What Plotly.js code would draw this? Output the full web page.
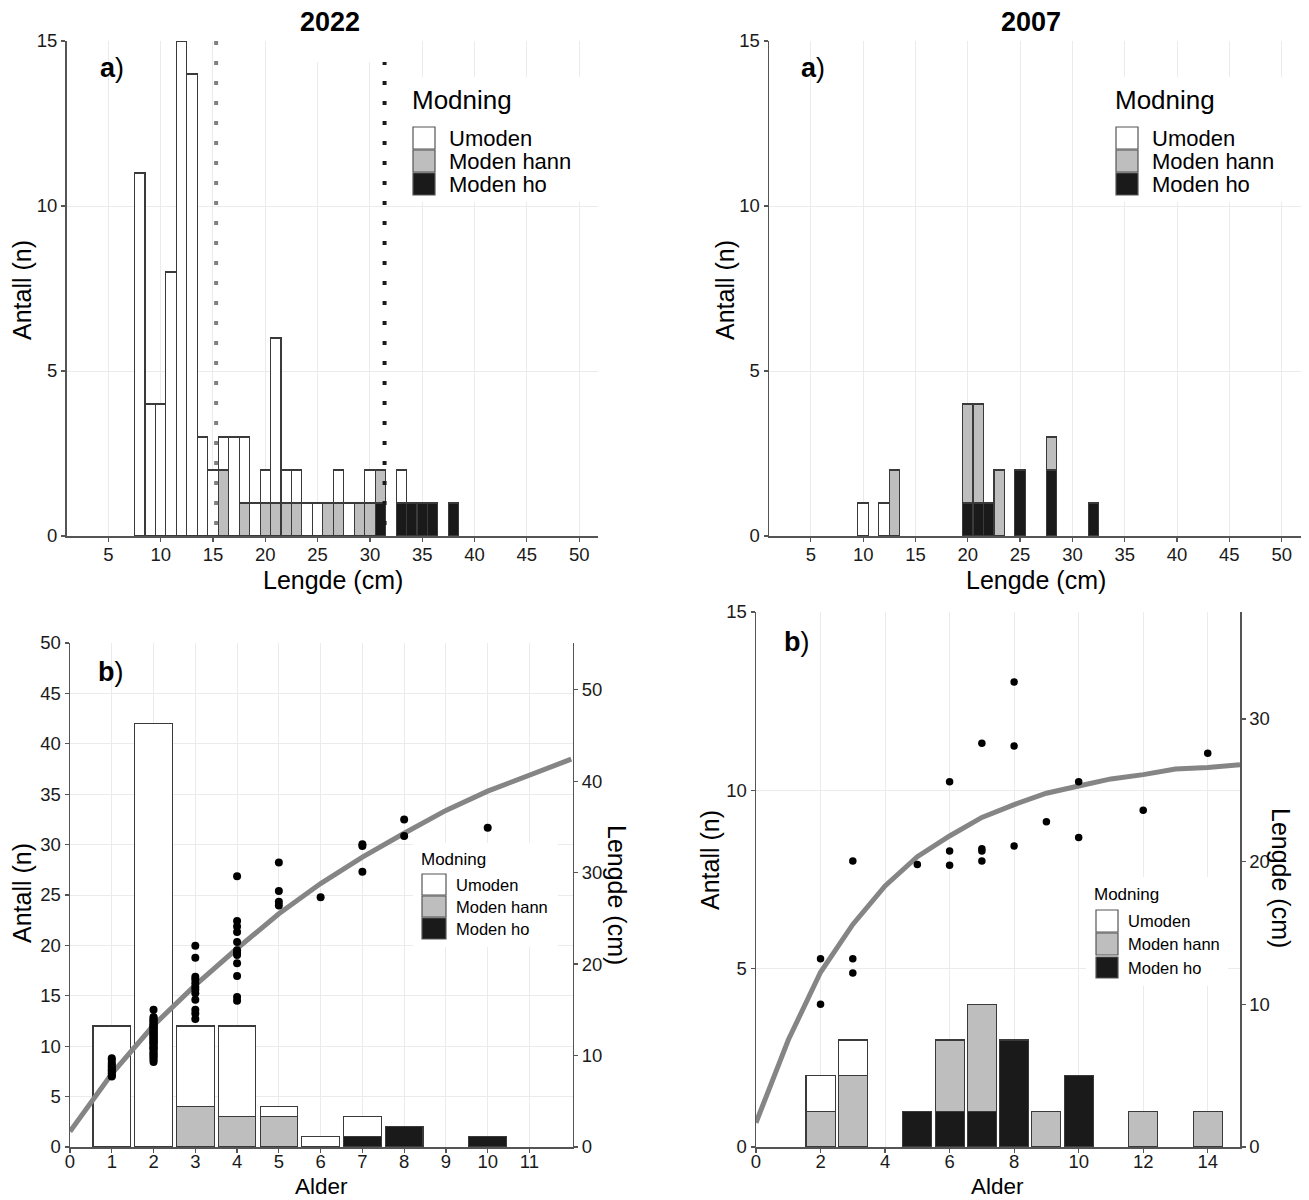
<!DOCTYPE html>
<html>
<head>
<meta charset="utf-8">
<script src="https://cdn.plot.ly/plotly-3.0.1.min.js"></script>
<style>html,body{margin:0;padding:0;background:#fff}#chart{width:1309px;height:1200px}</style>
</head>
<body>
<div id="chart"></div>
<script>
// ---------------- DATA ----------------
const maturityLabels = ['Umoden', 'Moden hann', 'Moden ho'];
const legendTitle = 'Modning';
const yearA = '2022';
const yearB = '2007';

// a) length histograms (1 cm bins, centre value)
const lengthBins2022 = [8,9,10,11,12,13,14,15,16,17,18,19,20,21,22,23,24,25,26,27,28,29,30,31,32,33,34,35,36,37,38];
const umoden2022     = [11,4,4,8,15,14,3,2,1,3,2,1,1,5,1,1,1,1,0,1,1,0,1,0,0,1,0,0,0,0,0];
const modenHann2022  = [0,0,0,0,0,0,0,0,2,0,1,0,1,1,1,1,0,0,1,1,0,1,1,1,0,0,0,0,0,0,0];
const modenHo2022    = [0,0,0,0,0,0,0,0,0,0,0,0,0,0,0,0,0,0,0,0,0,0,0,1,0,1,1,1,1,0,1];
const refLineGray2022 = 15.3;
const refLineBlack2022 = 31.4;

const lengthBins2007 = [10,11,12,13,14,15,16,17,18,19,20,21,22,23,24,25,26,27,28,29,30,31,32];
const umoden2007     = [1,0,1,0,0,0,0,0,0,0,0,0,0,0,0,0,0,0,0,0,0,0,0];
const modenHann2007  = [0,0,0,2,0,0,0,0,0,0,3,3,0,2,0,0,0,0,1,0,0,0,0];
const modenHo2007    = [0,0,0,0,0,0,0,0,0,0,1,1,1,0,0,2,0,0,2,0,0,0,1];

// b) age distributions
const ages2022          = [1,2,3,4,5,6,7,8,9,10];
const umodenAge2022     = [12,42,8,9,1,1,2,0,0,0];
const modenHannAge2022  = [0,0,4,3,3,0,0,0,0,0];
const modenHoAge2022    = [0,0,0,0,0,0,1,2,0,1];

const ages2007          = [1,2,3,4,5,6,7,8,9,10,11,12,13,14];
const umodenAge2007     = [0,1,1,0,0,0,0,0,0,0,0,0,0,0];
const modenHannAge2007  = [0,1,2,0,0,2,3,0,1,0,0,1,0,1];
const modenHoAge2007    = [0,0,0,0,1,1,1,3,0,2,0,0,0,0];

// individual fish (age, length cm)
const fishAge2022 = [
  1,1,1,1,1,1,1,1,1,1,1,1,
  2,2,2,2,2,2,2,2,2,2,2,2,2,2,2,2,2,2,2,2,2,2,2,2,2,2,2,2,2,2,2,2,2,2,2,2,2,2,2,2,2,2,
  3,3,3,3,3,3,3,3,3,3,3,3,
  4,4,4,4,4,4,4,4,4,4,4,4,
  5,5,5,5,
  6,
  7,7,7,
  8,8,
  10
];
const fishLength2022 = [
  7.7,7.8,8.0,8.1,8.3,8.4,8.6,8.8,9.0,9.2,9.5,9.7,
  9.3,9.5,9.7,9.9,10.0,10.2,10.3,10.5,10.7,10.8,10.9,11.0,11.2,11.3,11.4,11.5,11.6,11.7,11.8,11.9,12.0,12.1,12.2,12.3,12.4,12.5,12.6,12.7,12.8,12.9,13.0,13.1,13.2,13.3,13.4,13.5,13.7,13.8,13.9,14.1,14.2,15.0,
  22.0,20.7,18.6,18.3,17.9,17.5,17.2,16.8,16.1,15.0,14.6,14.0,
  29.6,24.7,24.1,23.5,22.4,21.5,21.2,21.0,20.1,18.7,16.4,16.0,
  31.1,28.0,26.8,26.4,
  27.3,
  33.1,32.9,30.1,
  35.8,34.0,
  34.9
];
const fishAge2007    = [2,2,3,3,3,5,6,6,6,7,7,7,7,8,8,8,9,10,10,12,14];
const fishLength2007 = [13.2,10.0,20.05,13.2,12.2,19.8,25.6,20.75,19.75,28.3,20.9,20.75,20.05,32.6,28.1,21.1,22.8,25.6,21.7,23.6,27.6];

// growth curves
const curveAge2022    = [0,1,2,3,4,5,6,7,8,9,10,11,12];
const curveLength2022 = [1.7,8.0,13.3,17.7,21.7,25.5,28.8,31.7,34.3,36.8,38.9,40.7,42.4];
const curveAge2007    = [0,1,2,3,4,5,6,7,8,9,10,11,12,13,14,15];
const curveLength2007 = [1.7,7.5,12.25,15.6,18.3,20.35,21.8,23.1,24.0,24.8,25.3,25.8,26.1,26.5,26.6,26.8];

// ---------------- STYLE ----------------
const W = 1309, H = 1200;
const FONT = 'Liberation Sans, Arial, sans-serif';
const fillColors = ['#ffffff', '#bebebe', '#1a1a1a'];
const outline = '#3a3a3a';
const px = v => v / W;
const py = v => 1 - v / H;
const nz = arr => arr.map(v => v === 0 ? null : v);

function stack(xs, um, hann, ho, xa, ya, width) {
  const series = [ho, hann, um];
  const idx = [2, 1, 0];
  return series.map((s, k) => ({
    type: 'bar', x: xs, y: nz(s), xaxis: xa, yaxis: ya, width: width,
    name: maturityLabels[idx[k]], showlegend: false,
    marker: {color: fillColors[idx[k]], line: {color: outline, width: 1.1}},
    hoverinfo: 'skip'
  }));
}

const traces = [];
traces.push(...stack(lengthBins2022, umoden2022, modenHann2022, modenHo2022, 'x', 'y', 1));
traces.push({type:'scatter', mode:'lines', x:[refLineGray2022, refLineGray2022], y:[15,0], xaxis:'x', yaxis:'y',
  line:{color:'#808080', width:4, dash:'4px,16px'}, showlegend:false, hoverinfo:'skip'});
traces.push({type:'scatter', mode:'lines', x:[refLineBlack2022, refLineBlack2022], y:[15,0], xaxis:'x', yaxis:'y',
  line:{color:'#1a1a1a', width:4, dash:'4px,16px'}, showlegend:false, hoverinfo:'skip'});
traces.push(...stack(lengthBins2007, umoden2007, modenHann2007, modenHo2007, 'x2', 'y2', 1));
traces.push(...stack(ages2022, umodenAge2022, modenHannAge2022, modenHoAge2022, 'x3', 'y3', 0.9));
traces.push(...stack(ages2007, umodenAge2007, modenHannAge2007, modenHoAge2007, 'x4', 'y4', 0.9));
traces.push({type:'scatter', mode:'lines', x:curveAge2022, y:curveLength2022, xaxis:'x3', yaxis:'y5',
  line:{color:'#858585', width:5}, showlegend:false, hoverinfo:'skip'});
traces.push({type:'scatter', mode:'markers', x:fishAge2022, y:fishLength2022, xaxis:'x3', yaxis:'y5',
  marker:{color:'#000', size:8}, showlegend:false, hoverinfo:'skip'});
traces.push({type:'scatter', mode:'lines', x:curveAge2007, y:curveLength2007, xaxis:'x4', yaxis:'y6',
  line:{color:'#858585', width:5}, showlegend:false, hoverinfo:'skip'});
traces.push({type:'scatter', mode:'markers', x:fishAge2007, y:fishLength2007, xaxis:'x4', yaxis:'y6',
  marker:{color:'#000', size:7.5}, showlegend:false, hoverinfo:'skip'});

function axis(o) {
  return Object.assign({
    showline:true, linecolor:'#555', linewidth:1.5, mirror:false,
    ticks:'outside', ticklen:4, tickwidth:1.2, tickcolor:'#555',
    showgrid:true, gridcolor:'#ebebeb', gridwidth:1, zeroline:false,
    tickfont:{family:FONT, size:18.5, color:'#1a1a1a'}, fixedrange:true,
    tickmode:'array'
  }, o);
}
const xExtra = {ticklabelstandoff:-3};
const xExtraLow = {ticklabelstandoff:-7};

const layout = {
  width: W, height: H,
  margin: {l:0, r:0, t:0, b:0},
  paper_bgcolor:'#fff', plot_bgcolor:'#fff',
  showlegend:false, barmode:'stack', bargap:0,
  font:{family:FONT, color:'#000'},
  xaxis:  axis(Object.assign({domain:[px(66.5), px(598)], range:[1, 51.8], tickvals:[5,10,15,20,25,30,35,40,45,50], anchor:'y'}, xExtra)),
  yaxis:  axis({domain:[py(536), py(41)], range:[0, 15], tickvals:[0,5,10,15], anchor:'x'}),
  xaxis2: axis(Object.assign({domain:[px(769), px(1300.5)], range:[1, 51.8], tickvals:[5,10,15,20,25,30,35,40,45,50], anchor:'y2'}, xExtra)),
  yaxis2: axis({domain:[py(536), py(41)], range:[0, 15], tickvals:[0,5,10,15], anchor:'x2'}),
  xaxis3: axis(Object.assign({domain:[px(70), px(572.5)], range:[0, 12.03], tickvals:[0,1,2,3,4,5,6,7,8,9,10,11], anchor:'y3'}, xExtraLow)),
  yaxis3: axis({domain:[py(1147), py(643)], range:[0, 50], tickvals:[0,5,10,15,20,25,30,35,40,45,50], anchor:'x3'}),
  yaxis5: axis({overlaying:'y3', side:'right', anchor:'x3', range:[0, 55.1], tickvals:[0,10,20,30,40,50], showgrid:false}),
  xaxis4: axis(Object.assign({domain:[px(756), px(1240)], range:[0, 15], tickvals:[0,2,4,6,8,10,12,14], anchor:'y4'}, xExtraLow)),
  yaxis4: axis({domain:[py(1147), py(612)], range:[0, 15], tickvals:[0,5,10,15], anchor:'x4'}),
  yaxis6: axis({overlaying:'y4', side:'right', anchor:'x4', range:[0, 37.5], tickvals:[0,10,20,30], showgrid:false}),
  shapes: [],
  annotations: []
};

function txt(text, x, y, size, opts) {
  layout.annotations.push(Object.assign({
    text:text, x:px(x), y:py(y), xref:'paper', yref:'paper', showarrow:false,
    xanchor:'center', yanchor:'middle', borderpad:0, font:{family:FONT, size:size, color:'#000'}
  }, opts || {}));
}

// title box (white) for 2022 covering top gridline
layout.shapes.push({type:'rect', xref:'paper', yref:'paper', x0:px(277), x1:px(393), y0:py(62), y1:py(0),
  fillcolor:'#fff', line:{width:0}, layer:'above'});

// panel titles and labels
txt('<b>' + yearA + '</b>', 330, 22, 27);
txt('<b>' + yearB + '</b>', 1031, 22, 27);
txt('<b>a</b>)', 112, 68, 27);
txt('<b>a</b>)', 813, 68, 27);
txt('<b>b</b>)', 111, 672, 27);
txt('<b>b</b>)', 797, 642, 27);

// axis titles
txt('Lengde (cm)', 333, 580, 25);
txt('Antall (n)', 22, 290, 25, {textangle:-90});
txt('Lengde (cm)', 1036, 580, 25);
txt('Antall (n)', 725, 290, 25, {textangle:-90});
txt('Alder', 321, 1199.5, 22.5, {yanchor:'bottom'});
txt('Antall (n)', 22, 893, 25, {textangle:-90});
txt('Lengde (cm)', 617, 895, 25, {textangle:90});
txt('Alder', 997, 1199.5, 22.5, {yanchor:'bottom'});
txt('Antall (n)', 710, 860, 25, {textangle:-90});
txt('Lengde (cm)', 1281, 878, 25, {textangle:90});

// legends (drawn)
function legend(bg, titleX, titleY, titleSize, swX0, swX1, rows, labelX, labelSize) {
  layout.shapes.push({type:'rect', xref:'paper', yref:'paper', x0:px(bg[0]), x1:px(bg[1]), y0:py(bg[3]), y1:py(bg[2]),
    fillcolor:'#fff', line:{width:0}, layer:'above'});
  txt(legendTitle, titleX, titleY, titleSize, {xanchor:'left'});
  rows.forEach((r, i) => {
    layout.shapes.push({type:'rect', xref:'paper', yref:'paper', x0:px(swX0), x1:px(swX1), y0:py(r[1]), y1:py(r[0]),
      fillcolor:fillColors[i], line:{color:'#555', width:1.2}, layer:'above'});
    txt(maturityLabels[i], labelX, (r[0] + r[1]) / 2, labelSize, {xanchor:'left'});
  });
}
legend([400, 598, 77, 202], 411, 100, 26, 413, 435, [[127,149],[150,172],[173,195]], 448, 22);
legend([1103, 1300, 77, 202], 1114, 100, 26, 1116, 1138, [[127,149],[150,172],[173,195]], 1151, 22);
legend([413, 558, 843, 947], 420, 859, 17, 422, 446, [[874,895],[896,917],[918,939]], 455, 16.5);
legend([1086, 1228, 877, 986], 1093, 894, 17, 1096, 1118, [[910,932],[933,955],[957,978]], 1127, 16.5);

Plotly.newPlot('chart', traces, layout, {staticPlot:true, displayModeBar:false});
</script>
</body>
</html>
